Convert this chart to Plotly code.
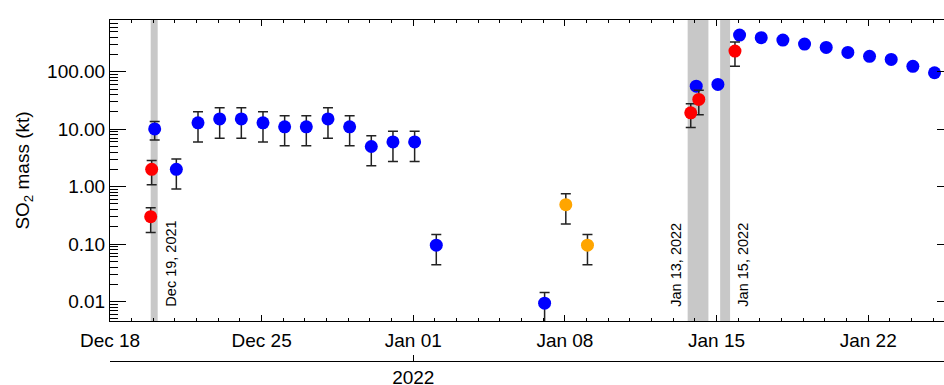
import plotly.graph_objects as go

# ---------------- data ----------------
blue_dates = ["2021-12-20 01:30", "2021-12-21 01:30", "2021-12-22 01:30", "2021-12-23 01:30",
              "2021-12-24 01:30", "2021-12-25 01:30", "2021-12-26 01:30", "2021-12-27 01:30",
              "2021-12-28 01:30", "2021-12-29 01:30", "2021-12-30 01:30", "2021-12-31 01:30",
              "2022-01-01 01:30", "2022-01-02 01:30", "2022-01-07 01:30", "2022-01-14 01:30",
              "2022-01-15 01:30", "2022-01-16 01:30", "2022-01-17 01:30", "2022-01-18 01:30",
              "2022-01-19 01:30", "2022-01-20 01:30", "2022-01-21 01:30", "2022-01-22 01:30",
              "2022-01-23 01:30", "2022-01-24 01:30", "2022-01-25 01:30"]
blue_mass = [10.1, 2.0, 12.9, 15.1, 15.1, 12.9, 11.0, 11.0, 15.1, 11.0, 5.0, 6.0, 6.0,
             0.096, 0.0094, 56.0, 60.0, 434, 392, 356, 303, 265, 217, 185, 164, 124, 96]
blue_upper = [13.6, 3.04, 20.1, 23.5, 23.5, 20.1, 17.1, 17.1, 23.5, 17.1, 7.66, 9.2, 9.2,
              0.147, 0.0144, None, None, None, None, None, None, None, None, None, None, None, None]
blue_lower = [6.5, 0.91, 6.0, 6.95, 6.95, 6.0, 5.13, 5.13, 6.95, 5.13, 2.3, 2.73, 2.73,
              0.0437, 0.003, None, None, None, None, None, None, None, None, None, None, None, None]

red_dates = ["2021-12-19 22:10", "2021-12-19 21:05", "2022-01-13 19:25", "2022-01-14 04:20",
             "2022-01-15 20:25"]
red_mass = [2.0, 0.30, 19.3, 32.9, 228.7]
red_upper = [2.84, 0.43, 27.7, 47.7, 328]
red_lower = [1.08, 0.16, 10.7, 17.8, 125]

orange_dates = ["2022-01-08 01:00", "2022-01-09 01:00"]
orange_mass = [0.485, 0.096]
orange_upper = [0.755, 0.147]
orange_lower = [0.224, 0.0437]

band_starts = ["2021-12-19 21:05", "2022-01-13 16:00", "2022-01-15 04:00"]
band_ends = ["2021-12-20 04:50", "2022-01-14 15:00", "2022-01-15 15:00"]

event_label_dates = ["2021-12-20 19:35", "2022-01-13 03:10", "2022-01-16 05:20"]
event_labels = ["Dec 19, 2021", "Jan 13, 2022", "Jan 15, 2022"]

y_tickvals = [0.01, 0.1, 1, 10, 100]
y_ticktext = ["0.01", "0.10", "1.00", "10.00", "100.00"]
year_tickvals = ["2022-01-01"]
year_ticktext = ["2022"]

x_range = ["2021-12-18 00:00", "2022-01-25 12:00"]
y_range_log = [-2.337, 2.90]

FONT = "Liberation Sans, Arial, Helvetica, sans-serif"
DAY_MS = 86400000


def err(vals, upper, lower):
    plus = [None if u is None else u - v for v, u in zip(vals, upper)]
    minus = [None if l is None else v - l for v, l in zip(vals, lower)]
    return plus, minus


fig = go.Figure()


def add_series(dates, vals, upper, lower, color):
    plus, minus = err(vals, upper, lower)
    fig.add_trace(go.Scatter(
        x=dates, y=vals, mode="markers",
        marker=dict(color=color, size=13, line=dict(width=0)),
        error_y=dict(type="data", array=plus, arrayminus=minus, symmetric=False,
                     color="#222222", thickness=1.5, width=5),
        showlegend=False, hoverinfo="x+y"))


add_series(blue_dates, blue_mass, blue_upper, blue_lower, "#0000ff")
add_series(red_dates, red_mass, red_upper, red_lower, "#ff0000")
add_series(orange_dates, orange_mass, orange_upper, orange_lower, "#ffa500")

# empty trace to carry the secondary axes
fig.add_trace(go.Scatter(x=[], y=[], xaxis="x2", yaxis="y2", showlegend=False))

for x0, x1 in zip(band_starts, band_ends):
    fig.add_shape(type="rect", xref="x", yref="y domain", x0=x0, x1=x1, y0=0, y1=1,
                  fillcolor="#c8c8c8", line=dict(width=0), layer="below")

for d, t in zip(event_label_dates, event_labels):
    fig.add_annotation(x=d, xref="x", y=0.041, yref="y domain", text=t, textangle=-90,
                       showarrow=False, xanchor="center", yanchor="bottom",
                       font=dict(family=FONT, size=14.5, color="black"))

ydom = [0.1174, 1.0]

fig.update_layout(
    width=944, height=385,
    margin=dict(l=110, r=0, t=20, b=24.3),
    paper_bgcolor="white", plot_bgcolor="white",
    font=dict(family=FONT, color="black", size=19),
    showlegend=False,
    xaxis=dict(
        type="date", range=x_range, domain=[0, 1],
        tickmode="linear", tick0="2021-12-18", dtick=7 * DAY_MS, tickformat="%b %d",
        ticks="inside", ticklen=6, tickwidth=1, tickcolor="black",
        showline=True, linecolor="black", linewidth=1, mirror="ticks",
        showgrid=False, zeroline=False,
        minor=dict(ticks="inside", ticklen=3, tickcolor="black", tick0="2021-12-18",
                   dtick=DAY_MS, showgrid=False),
        tickfont=dict(family=FONT, size=19, color="black"),
        ticklabelstandoff=2, automargin=False,
    ),
    yaxis=dict(
        type="log", range=y_range_log, domain=ydom,
        tickmode="array", tickvals=y_tickvals, ticktext=y_ticktext,
        ticks="inside", ticklen=16, tickwidth=1, tickcolor="black",
        showline=True, linecolor="black", linewidth=1, mirror=False,
        showgrid=False, zeroline=False,
        minor=dict(ticks="inside", ticklen=8, tickcolor="black", dtick="D1", showgrid=False),
        tickfont=dict(family=FONT, size=19, color="black"),
        title=dict(text="SO<sub>2</sub> mass (kt)", font=dict(family=FONT, size=19, color="black"),
                   standoff=12),
        automargin=False,
    ),
    xaxis2=dict(
        type="date", range=x_range, overlaying="x", anchor="free", position=0, side="bottom",
        tickmode="array", tickvals=year_tickvals, ticktext=year_ticktext,
        ticks="inside", ticklen=6, tickcolor="black",
        showline=True, linecolor="black", linewidth=1,
        showgrid=False, zeroline=False, ticklabelstandoff=-1,
        tickfont=dict(family=FONT, size=19, color="black"), automargin=False,
    ),
    yaxis2=dict(
        type="log", range=y_range_log, overlaying="y", anchor="x2", side="right",
        tickmode="array", tickvals=y_tickvals, showticklabels=False,
        ticks="inside", ticklen=7, tickcolor="black",
        showline=False, showgrid=False, zeroline=False, automargin=False,
    ),
)

fig.write_html("out.html")
